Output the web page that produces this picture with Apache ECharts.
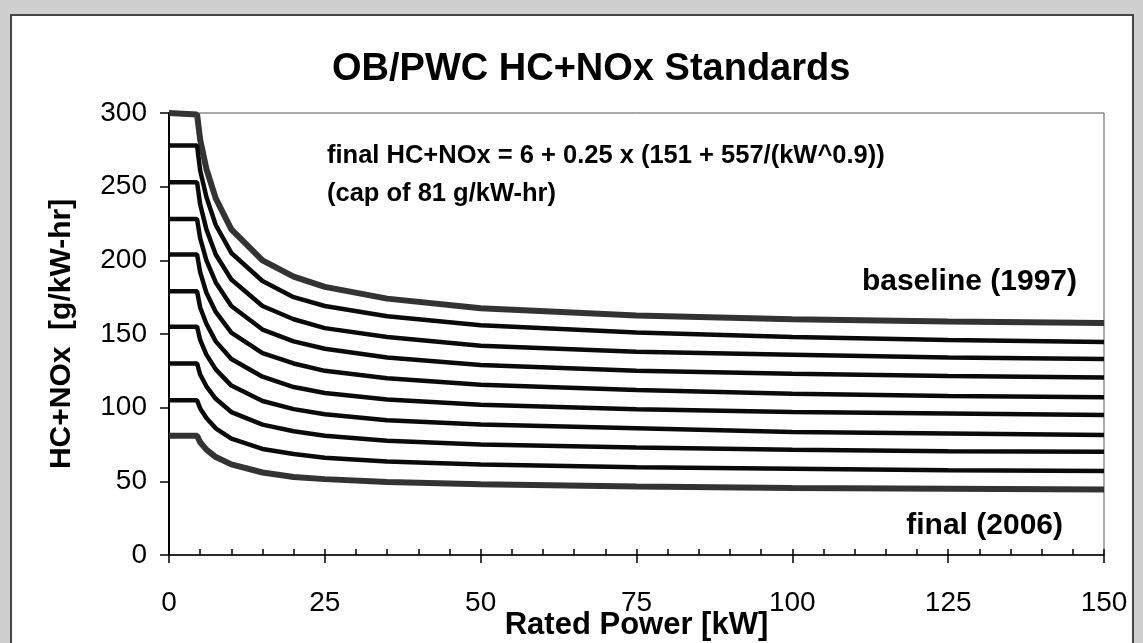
<!DOCTYPE html>
<html>
<head>
<meta charset="utf-8">
<script src="https://cdn.jsdelivr.net/npm/echarts@6/dist/echarts.min.js"></script>
<style>
html,body{margin:0;padding:0;background:#cfcfcf;}
#chart{width:1143px;height:643px;}
</style>
</head>
<body>
<div id="chart"></div>
<script>
// Rated power sample points (kW)
var powerKW = [0, 4.5, 5, 6, 7.5, 10, 15, 20, 25, 35, 50, 75, 100, 125, 150];
// HC+NOx standards (g/kW-hr)
var baseline1997 = [300, 299, 282, 262, 242, 221, 200, 189, 182, 174, 167.5, 162.5, 160, 158.5, 157.5];
var std1998 = [278, 278, 261, 243, 224, 205, 186, 175, 169, 162, 156, 151, 148, 146, 144.5];
var std1999 = [253, 253, 238, 221, 204, 187, 169, 160, 154, 148, 142, 138, 136, 134, 133];
var std2000 = [228, 228, 215, 200, 185, 169, 153, 145, 140, 134, 129, 125, 123, 121.5, 120.5];
var std2001 = [204, 204, 192, 178, 165, 151, 137, 130, 125, 120, 115.5, 112, 109.5, 108, 107];
var std2002 = [179, 179, 168, 157, 145, 133, 121, 114, 110, 105.5, 102, 99, 97, 96, 95];
var std2003 = [155, 155, 146, 136, 126, 115, 104.5, 99, 95.5, 91.5, 88.5, 86, 83.5, 82.5, 81.5];
var std2004 = [130, 130, 122.5, 114.5, 106, 97, 88.5, 84, 81, 77.5, 75, 73, 71.5, 70.5, 70];
var std2005 = [105, 105, 99.5, 93, 86, 79, 72, 68.5, 66, 63.5, 61.5, 59.5, 58.5, 57.5, 57];
var final2006 = [81, 81, 76.5, 71.5, 66.5, 61.5, 56, 53, 51.5, 49.5, 48, 46.5, 45.5, 45, 44.5];

var xTicks = [0, 25, 50, 75, 100, 125, 150];
var yTicks = [0, 50, 100, 150, 200, 250, 300];

var seriesValues = [baseline1997, std1998, std1999, std2000, std2001, std2002, std2003, std2004, std2005, final2006];
var seriesNames = ['baseline (1997)', '1998', '1999', '2000', '2001', '2002', '2003', '2004', '2005', 'final (2006)'];

function pairs(vals) {
  return powerKW.map(function (x, i) { return [x, vals[i]]; });
}

var FONT = '"Liberation Sans", Arial, sans-serif';

var series = seriesValues.map(function (vals, i) {
  var edge = (i === 0 || i === seriesValues.length - 1);
  return {
    name: seriesNames[i],
    type: 'line',
    data: pairs(vals),
    showSymbol: false,
    smooth: false,
    lineStyle: { color: edge ? '#333' : '#0a0a0a', width: edge ? 6 : 4.5 },
    z: 3
  };
});

var chart = echarts.init(document.getElementById('chart'), null, { renderer: 'canvas' });
chart.setOption({
  animation: false,
  backgroundColor: '#cfcfcf',
  title: {
    text: 'OB/PWC HC+NOx Standards',
    left: 327,
    top: 46,
    textStyle: { fontFamily: FONT, fontWeight: 'bold', fontSize: 38, color: '#000' }
  },
  grid: {
    left: 169, top: 113, width: 935, height: 442,
    outerBoundsMode: 'none', containLabel: false,
    show: true, borderColor: '#555', borderWidth: 1, backgroundColor: 'transparent'
  },
  xAxis: [{
    type: 'value', min: 0, max: 150, interval: 25,
    name: 'Rated Power [kW]', nameLocation: 'middle', nameGap: 55, nameMoveOverlap: false,
    nameTextStyle: { fontFamily: FONT, fontWeight: 'bold', fontSize: 31, color: '#000' },
    axisLine: { show: true, lineStyle: { color: '#000', width: 1.5 } },
    axisTick: { show: true, inside: false, length: 8, lineStyle: { color: '#000', width: 1.5 } },
    axisLabel: { fontFamily: FONT, fontSize: 28, color: '#000', margin: 34 },
    splitLine: { show: false }
  }, {
    type: 'value', min: 0, max: 150, interval: 5, position: 'bottom', offset: 0,
    axisLine: { show: false },
    axisTick: { show: true, inside: true, length: 6, lineStyle: { color: '#000', width: 1.5 } },
    axisLabel: { show: false },
    splitLine: { show: false }
  }],
  yAxis: {
    type: 'value', min: 0, max: 300, interval: 50,
    name: 'HC+NOx  [g/kW-hr]', nameLocation: 'middle', nameGap: 92, nameMoveOverlap: false,
    nameTextStyle: { fontFamily: FONT, fontWeight: 'bold', fontSize: 30, color: '#000' },
    axisLine: { show: true, lineStyle: { color: '#000', width: 2 } },
    axisTick: { show: true, inside: false, length: 9, lineStyle: { color: '#000', width: 1.5 } },
    axisLabel: { fontFamily: FONT, fontSize: 28, color: '#000', margin: 22 },
    splitLine: { show: false }
  },
  graphic: [
    { type: 'rect', z: -100, silent: true,
      shape: { x: 11, y: 15, width: 1122, height: 650 },
      style: { fill: '#fff', stroke: '#444', lineWidth: 2 } },
    { type: 'text', left: 327, top: 143, z: 10,
      style: { text: 'final HC+NOx = 6 + 0.25 x (151 + 557/(kW^0.9))', fill: '#000',
        font: 'bold 25.5px ' + FONT } },
    { type: 'text', left: 327, top: 181, z: 10,
      style: { text: '(cap of 81 g/kW-hr)', fill: '#000', font: 'bold 25.5px ' + FONT } },
    { type: 'text', right: 1143 - 1077, top: 267, z: 10,
      style: { text: 'baseline (1997)', fill: '#000', font: 'bold 30px ' + FONT } },
    { type: 'text', right: 1143 - 1063, top: 511, z: 10,
      style: { text: 'final (2006)', fill: '#000', font: 'bold 30px ' + FONT } }
  ],
  series: series
});
</script>
</body>
</html>
